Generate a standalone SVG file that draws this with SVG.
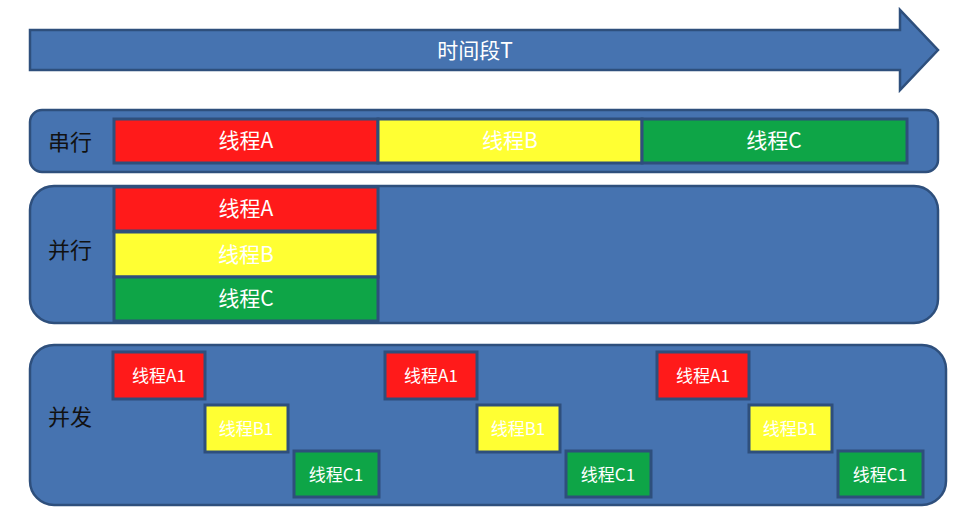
<svg xmlns="http://www.w3.org/2000/svg" width="965" height="514" viewBox="0 0 965 514">
<style>
.pane{fill:#4673B0;stroke:#2E4F7C;stroke-width:2.5}
.box{stroke:#2E4F7C;stroke-width:3}
.r{fill:#FF1A1A}
.y{fill:#FFFF33}
.g{fill:#0EA547}
.t{font-family:"Microsoft YaHei","Noto Sans CJK SC",sans-serif;fill:#FFFFFF;text-anchor:middle;dominant-baseline:central}
.big{font-size:21px}
.small{font-size:17px}
.lab{font-family:"Microsoft YaHei","Noto Sans CJK SC",sans-serif;font-size:22px;fill:#111111;dominant-baseline:central}
</style>
<g id="timeline">
<polygon class="pane" points="30,30 900,30 900,10 938,50 900,90 900,70 30,70"/>
<text class="t big" x="475" y="49">时间段T</text>
</g>
<g id="serial">
<rect class="pane" x="30" y="110" width="908" height="62" rx="12"/>
<text class="lab" x="48" y="140">串行</text>
<g id="serial-a"><rect class="box r" x="114" y="119" width="264" height="44"/><text class="t big" x="246" y="139">线程A</text></g>
<g id="serial-b"><rect class="box y" x="378" y="119" width="264" height="44"/><text class="t big" x="510" y="139">线程B</text></g>
<g id="serial-c"><rect class="box g" x="642" y="119" width="265" height="44"/><text class="t big" x="774" y="139">线程C</text></g>
</g>
<g id="parallel">
<rect class="pane" x="30" y="186" width="908" height="137" rx="24"/>
<text class="lab" x="48" y="248">并行</text>
<g id="parallel-a"><rect class="box r" x="114" y="187" width="264" height="44"/><text class="t big" x="246" y="207">线程A</text></g>
<g id="parallel-b"><rect class="box y" x="114" y="232" width="264" height="45"/><text class="t big" x="246" y="253">线程B</text></g>
<g id="parallel-c"><rect class="box g" x="114" y="277" width="264" height="44"/><text class="t big" x="246" y="297">线程C</text></g>
</g>
<g id="concurrent">
<rect class="pane" x="30" y="345" width="916" height="160" rx="24"/>
<text class="lab" x="48" y="415">并发</text>
<g id="c-a1-1"><rect class="box r" x="113" y="352" width="92" height="47"/><text class="t small" x="159" y="374">线程A1</text></g>
<g id="c-b1-1"><rect class="box y" x="205" y="405" width="83" height="47"/><text class="t small" x="246" y="427">线程B1</text></g>
<g id="c-c1-1"><rect class="box g" x="294" y="451" width="85" height="46"/><text class="t small" x="336" y="473">线程C1</text></g>
<g id="c-a1-2"><rect class="box r" x="385" y="352" width="92" height="47"/><text class="t small" x="431" y="374">线程A1</text></g>
<g id="c-b1-2"><rect class="box y" x="477" y="405" width="83" height="47"/><text class="t small" x="518" y="427">线程B1</text></g>
<g id="c-c1-2"><rect class="box g" x="566" y="451" width="85" height="46"/><text class="t small" x="608" y="473">线程C1</text></g>
<g id="c-a1-3"><rect class="box r" x="657" y="352" width="92" height="47"/><text class="t small" x="703" y="374">线程A1</text></g>
<g id="c-b1-3"><rect class="box y" x="749" y="405" width="83" height="47"/><text class="t small" x="790" y="427">线程B1</text></g>
<g id="c-c1-3"><rect class="box g" x="838" y="451" width="85" height="46"/><text class="t small" x="880" y="473">线程C1</text></g>
</g>
<g id="connectors"></g>
</svg>
